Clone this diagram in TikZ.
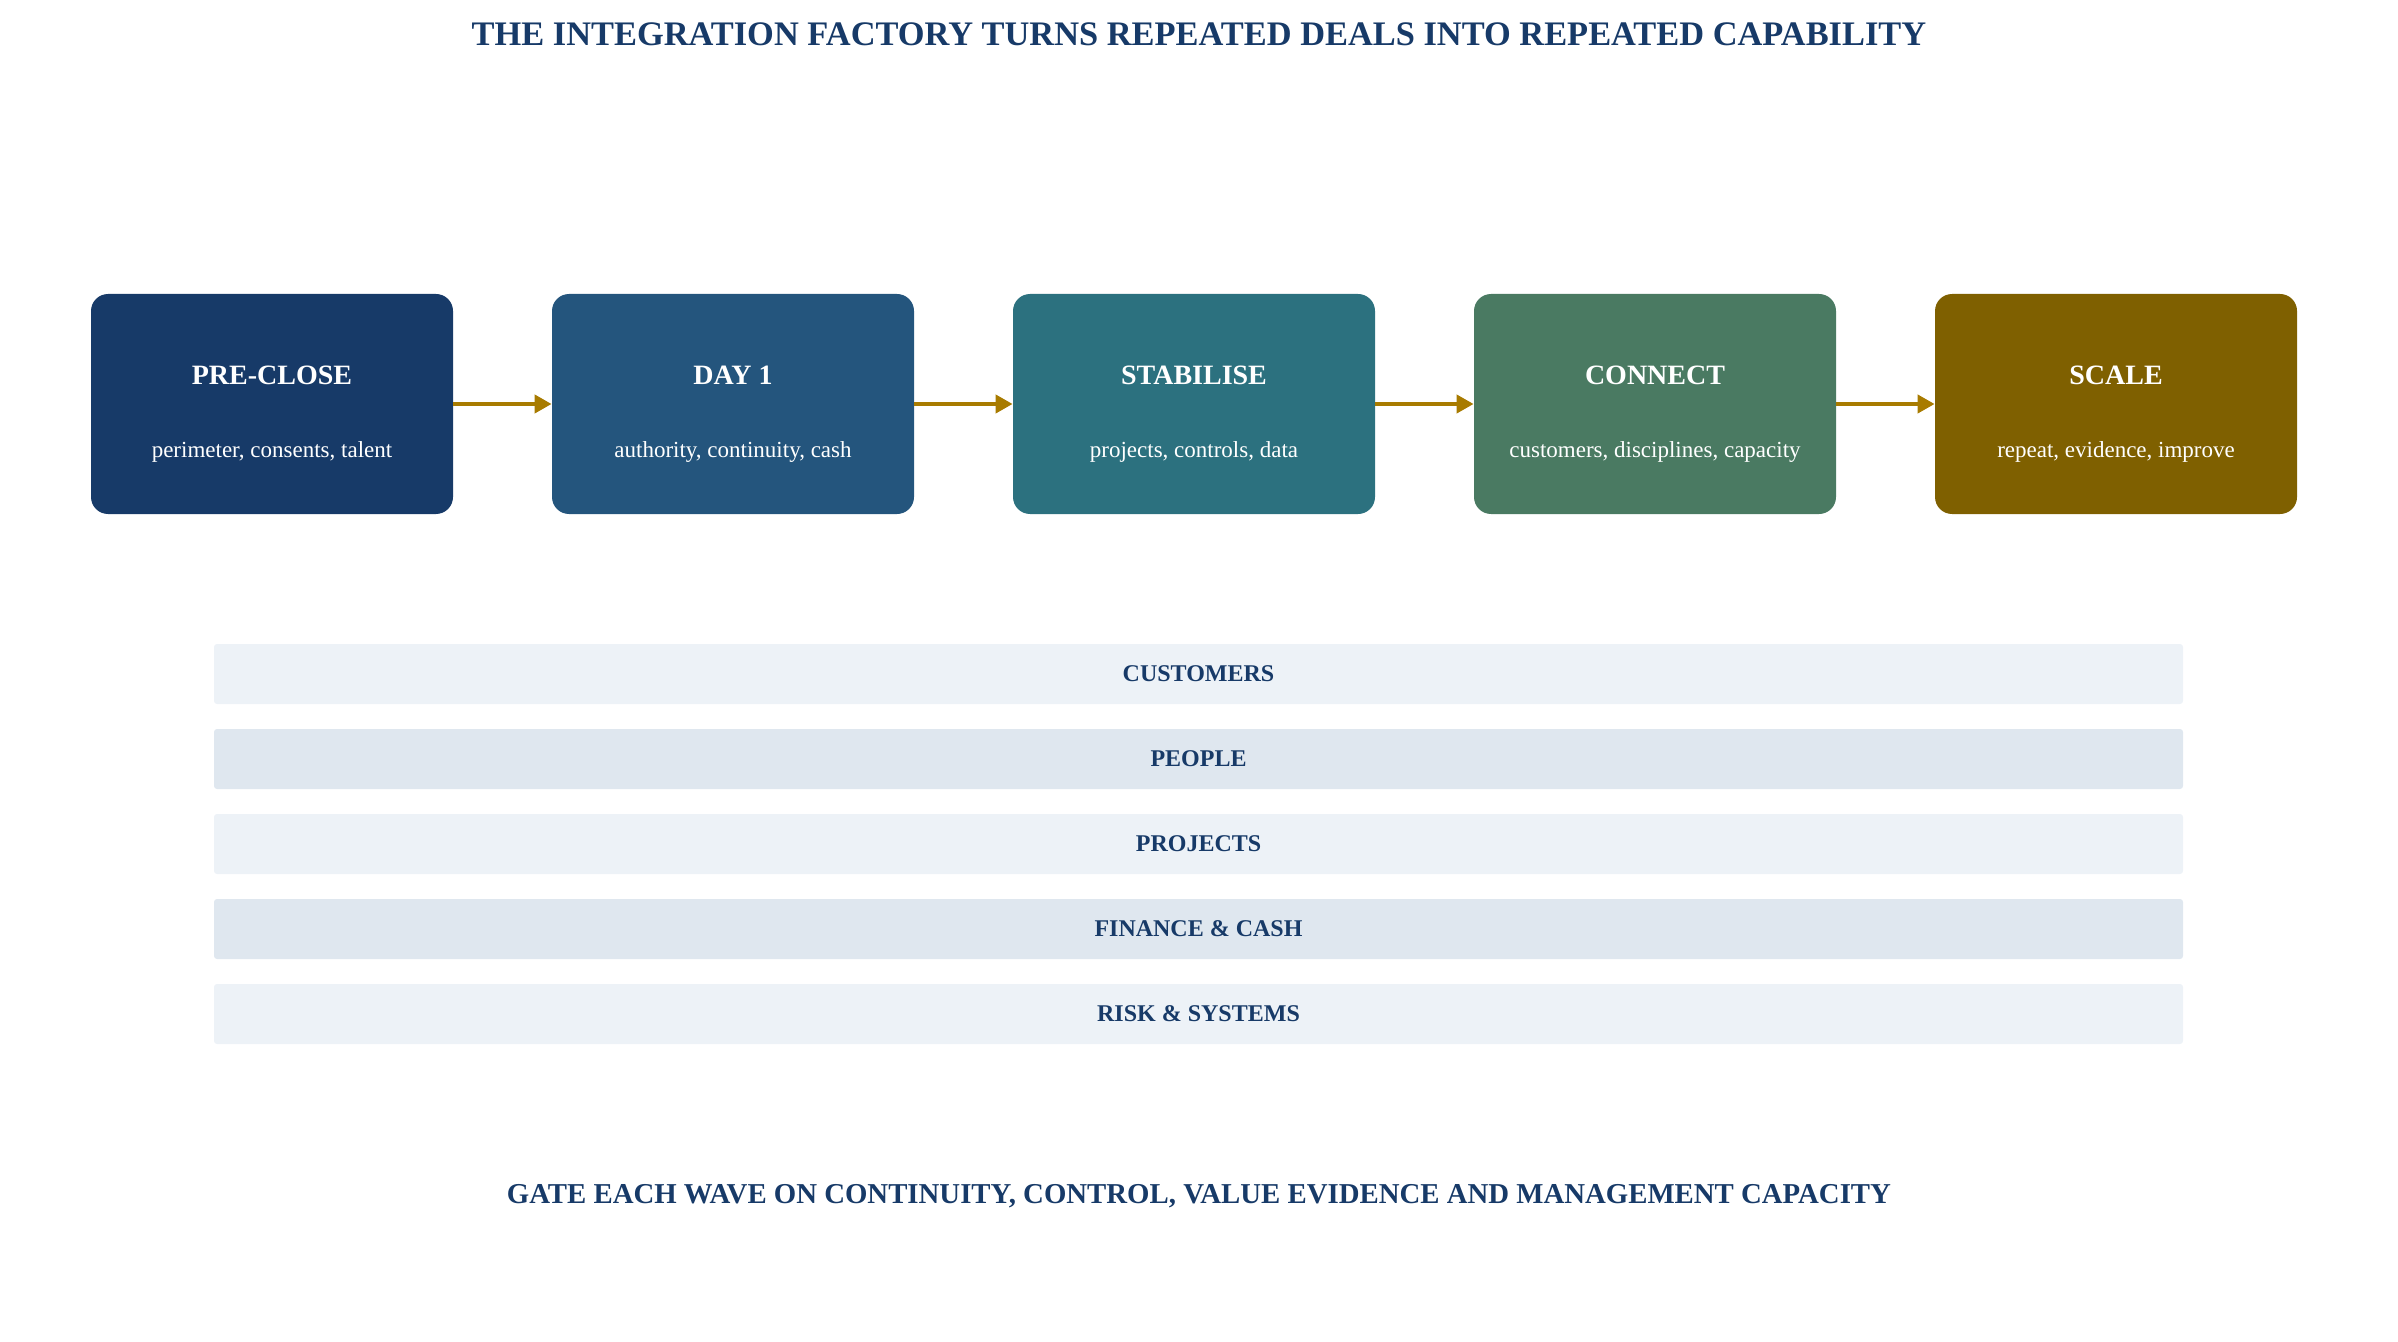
\documentclass[tikz,border=0pt]{standalone}
\usepackage{fontspec}
\setmainfont{Liberation Serif}
\usetikzlibrary{arrows.meta}

\definecolor{navytext}{HTML}{173A68}
\definecolor{preclosefill}{HTML}{173A68}
\definecolor{dayfill}{HTML}{24557D}
\definecolor{stabfill}{HTML}{2C717F}
\definecolor{connfill}{HTML}{4A7A62}
\definecolor{scalefill}{HTML}{7F6000}
\definecolor{arrowgold}{HTML}{A87B00}
\definecolor{bandlight}{HTML}{EDF2F7}
\definecolor{banddark}{HTML}{DFE7EF}

\tikzset{
  phasebox/.style={draw=none, rounded corners=8.5pt, minimum width=181pt, minimum height=110pt, inner sep=0pt},
  phasetitle/.style={text=white, font=\fontsize{14}{16}\selectfont\bfseries, inner sep=0.75pt},
  phasesub/.style={text=white, font=\fontsize{11.5}{14}\selectfont, inner sep=0.75pt},
  lane/.style={draw=none, rounded corners=1.5pt, minimum width=984.5pt, minimum height=30pt, inner sep=0pt, text=navytext, font=\fontsize{12}{14}\selectfont\bfseries},
  flowarrow/.style={draw=arrowgold, line width=2pt, -{Triangle[length=8.5pt,width=9pt]}},
  headline/.style={text=navytext, font=\fontsize{17.2}{20}\selectfont\bfseries, inner sep=0.75pt}
}

\begin{document}
\begin{tikzpicture}[x=0.5pt,y=0.5pt,yscale=-1,xscale=1]
\useasboundingbox (0,0) rectangle (2398,1342);

% Text Node
\node[headline] (title) at (1199,34) {THE INTEGRATION FACTORY TURNS REPEATED DEALS INTO REPEATED CAPABILITY};

%Rounded Rect [id:preclose]
\node[phasebox, fill=preclosefill] (preclose) at (272,404) {};
%Rounded Rect [id:day1]
\node[phasebox, fill=dayfill] (day1) at (733,404) {};
%Rounded Rect [id:stabilise]
\node[phasebox, fill=stabfill] (stabilise) at (1194,404) {};
%Rounded Rect [id:connect]
\node[phasebox, fill=connfill] (connect) at (1655,404) {};
%Rounded Rect [id:scale]
\node[phasebox, fill=scalefill] (scale) at (2116,404) {};

% Text Node
\node[phasetitle] (preclosetitle) at (272,375) {PRE-CLOSE};
\node[phasesub] (preclosesub) at (272,452) {perimeter, consents, talent};
% Text Node
\node[phasetitle] (day1title) at (733,375) {DAY 1};
\node[phasesub] (day1sub) at (733,452) {authority, continuity, cash};
% Text Node
\node[phasetitle] (stabilisetitle) at (1194,375) {STABILISE};
\node[phasesub] (stabilisesub) at (1194,452) {projects, controls, data};
% Text Node
\node[phasetitle] (connecttitle) at (1655,375) {CONNECT};
\node[phasesub] (connectsub) at (1655,452) {customers, disciplines, capacity};
% Text Node
\node[phasetitle] (scaletitle) at (2116,375) {SCALE};
\node[phasesub] (scalesub) at (2116,452) {repeat, evidence, improve};

%Straight Lines [id:flow]
\draw[flowarrow] (preclose) -- (day1);
\draw[flowarrow] (day1) -- (stabilise);
\draw[flowarrow] (stabilise) -- (connect);
\draw[flowarrow] (connect) -- (scale);

%Shape: Rectangle [id:lanes]
\node[lane, fill=bandlight] (customers) at (1198.5,674) {CUSTOMERS};
\node[lane, fill=banddark] (people) at (1198.5,759) {PEOPLE};
\node[lane, fill=bandlight] (projects) at (1198.5,844) {PROJECTS};
\node[lane, fill=banddark] (finance) at (1198.5,929) {FINANCE \& CASH};
\node[lane, fill=bandlight] (risk) at (1198.5,1014) {RISK \& SYSTEMS};

% Text Node
\node[headline, font=\fontsize{14.4}{17}\selectfont\bfseries] (gate) at (1199,1196) {GATE EACH WAVE ON CONTINUITY, CONTROL, VALUE EVIDENCE AND MANAGEMENT CAPACITY};

\end{tikzpicture}
\end{document}
